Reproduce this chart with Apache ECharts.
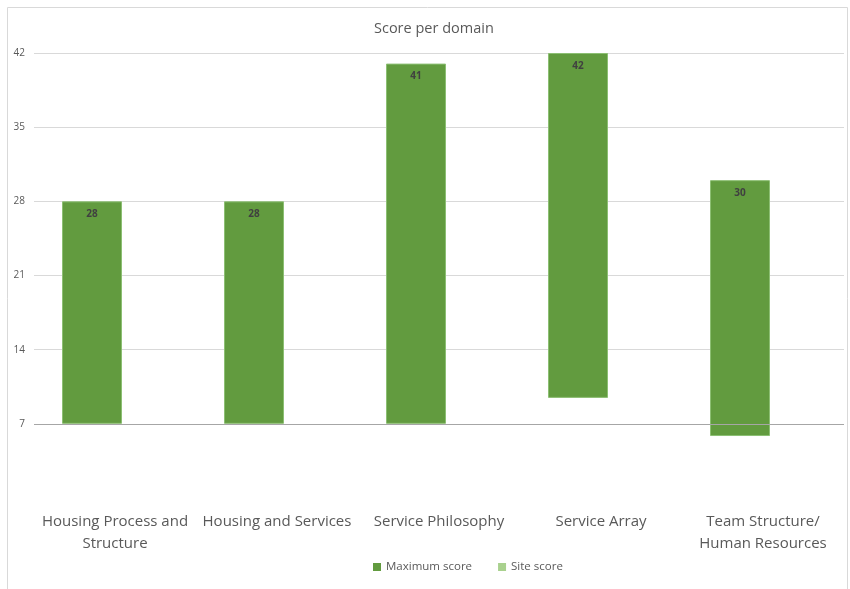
<!DOCTYPE html>
<html><head><meta charset="utf-8">
<script src="https://cdn.jsdelivr.net/npm/echarts@6/dist/echarts.min.js"></script>
<style>html,body{margin:0;padding:0;background:#fff}#c{width:850px;height:589px}</style>
</head><body><div id="c"></div>
<script>
const categories = ["Housing Process and\nStructure", "Housing and Services", "Service Philosophy", "Service Array", "Team Structure/\nHuman Resources"];
const maximumScore = [28, 28, 41, 42, 30];
const barBottom = [7, 7, 7, 9.45, 5.85];
const siteScore = [0, 0, 0, 0, 0];
const yTicks = [0, 7, 14, 21, 28, 35, 42];

const FONT = "'Open Sans', 'Noto Sans', sans-serif";
const chart = echarts.init(document.getElementById('c'));
chart.setOption({
  animation: false,
  textStyle: { fontFamily: FONT },
  graphic: [{ type: 'rect', shape: { x: 7.5, y: 7.5, width: 840, height: 600 }, style: { fill: 'none', stroke: '#d9d9d9', lineWidth: 1 }, silent: true }],
  title: { text: 'Score per domain', left: 369, top: 16, textStyle: { fontFamily: FONT, fontSize: 14.5, fontWeight: 'normal', color: '#595959' } },
  legend: {
    data: ['Maximum score', 'Site score'], top: 556, left: 368, icon: 'rect', itemWidth: 8, itemHeight: 8, itemGap: 26,
    itemStyle: { borderWidth: 0 },
    textStyle: { fontFamily: FONT, fontSize: 11.5, color: '#595959' }
  },
  grid: { left: 34, right: 6, top: 53, bottom: 91, containLabel: false },
  xAxis: {
    type: 'category', data: categories,
    axisLine: { show: false }, axisTick: { show: false },
    axisLabel: { margin: 13, fontFamily: FONT, fontSize: 15, color: '#595959', lineHeight: 22, interval: 0 }
  },
  yAxis: {
    type: 'value', min: yTicks[0], max: yTicks[yTicks.length - 1], interval: 7,
    axisLine: { show: false }, axisTick: { show: false },
    axisLabel: { margin: 9, fontFamily: FONT, fontSize: 10, color: '#595959', showMinLabel: false },
    splitLine: { lineStyle: { color: ['rgba(0,0,0,0)', 'rgba(0,0,0,0)', '#d9d9d9', '#d9d9d9', '#d9d9d9', '#d9d9d9', '#d9d9d9'], width: 1 } }
  },
  series: [
    { name: 'base', type: 'bar', stack: 'm', barWidth: 60, data: barBottom, itemStyle: { color: 'rgba(0,0,0,0)' }, silent: true },
    { name: 'Maximum score', type: 'bar', stack: 'm', barWidth: 60, barGap: '0%',
      data: maximumScore.map((v, i) => +(v - barBottom[i]).toFixed(2)),
      itemStyle: { color: '#629b3f', borderColor: '#8cbf73', borderWidth: 1 },
      label: { show: true, position: 'insideTop', distance: 8, fontFamily: FONT, fontSize: 10, fontWeight: 'bold', color: '#404040',
        formatter: p => String(maximumScore[p.dataIndex]) } },
    { name: 'Site score', type: 'bar', barWidth: 46, data: siteScore, itemStyle: { color: '#a9d18e' },
      markLine: { silent: true, symbol: 'none', label: { show: false }, lineStyle: { color: '#a6a6a6', type: 'solid', width: 1.2 }, data: [{ yAxis: 7 }] } }
  ]
});
</script></body></html>
